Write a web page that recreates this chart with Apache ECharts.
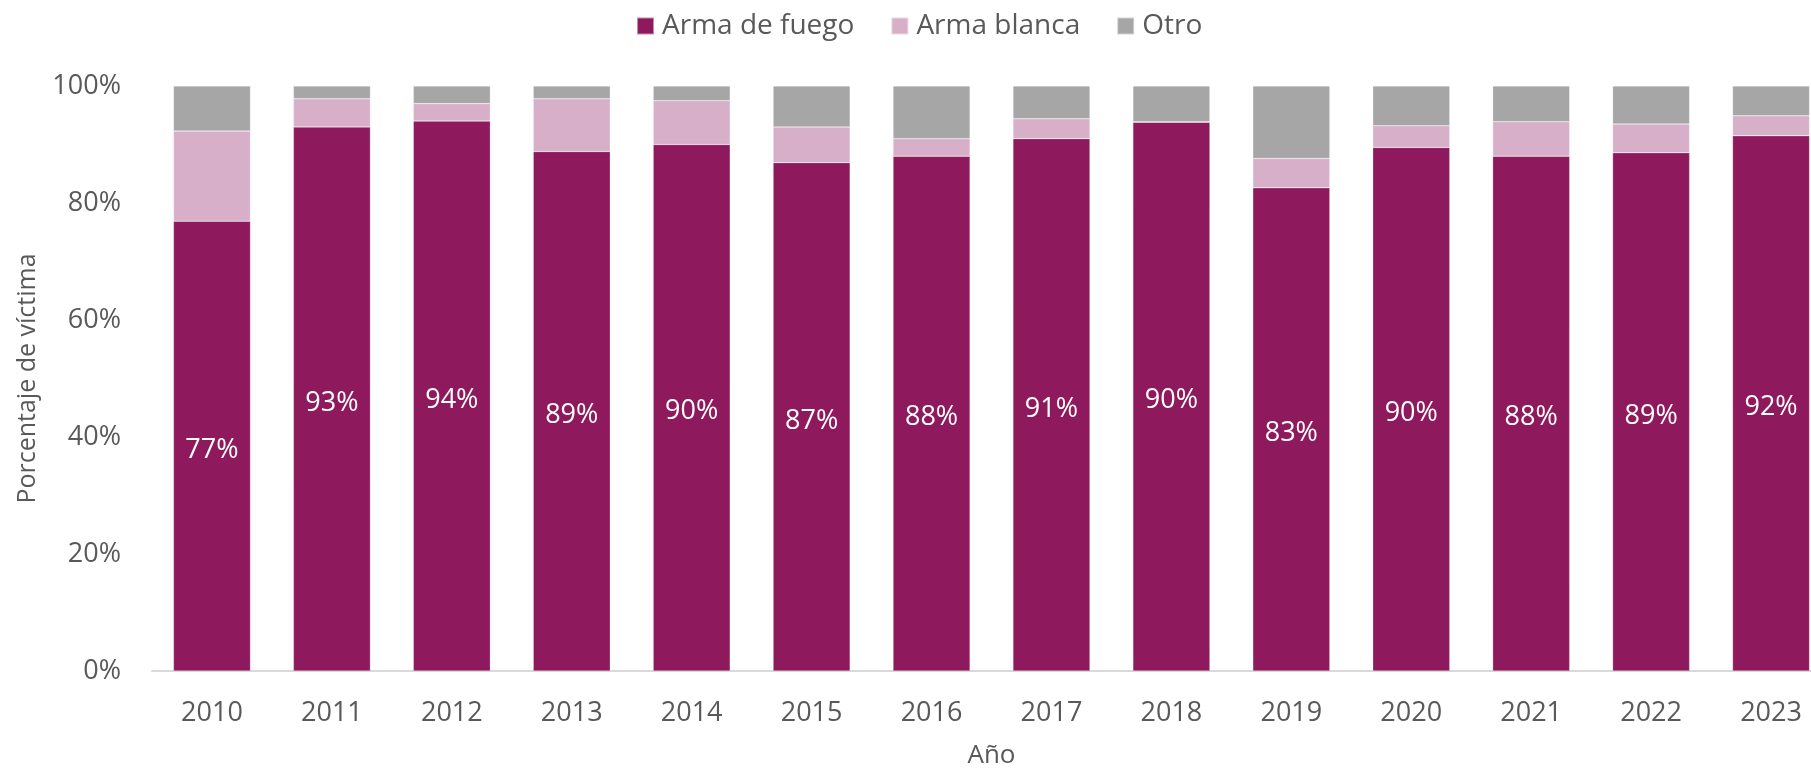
<!DOCTYPE html>
<html>
<head>
<meta charset="utf-8">
<script src="https://cdn.jsdelivr.net/npm/echarts@6/dist/echarts.min.js"></script>
<style>
  html, body { margin: 0; padding: 0; background: #fff; overflow: hidden; }
  /* 原图最后一根柱子被右边缘截断：画布比窗口略宽 */
  #main { width: 1831px; height: 774px; }
</style>
</head>
<body>
<div id="main"></div>
<script>
// 数据
var years = ['2010', '2011', '2012', '2013', '2014', '2015', '2016', '2017', '2018', '2019', '2020', '2021', '2022', '2023'];
var armaFuego = [76.9, 93.0, 94.0, 88.8, 90.0, 86.9, 88.0, 91.0, 93.8, 82.6, 89.5, 88.0, 88.6, 91.5];
var armaBlanca = [15.4, 4.8, 3.0, 9.0, 7.5, 6.1, 3.0, 3.4, 0.1, 5.0, 3.7, 5.9, 4.9, 3.4];
var otro = [7.7, 2.2, 3.0, 2.2, 2.5, 7.0, 9.0, 5.6, 6.1, 12.4, 6.8, 6.1, 6.5, 5.1];
// 柱内显示的标签（原图 2018 年显示 90%）
var fuegoLabels = ['77%', '93%', '94%', '89%', '90%', '87%', '88%', '91%', '90%', '83%', '90%', '88%', '89%', '92%'];
var yTicks = [0, 20, 40, 60, 80, 100];

var myChart = echarts.init(document.getElementById('main'));

var font = "'Open Sans', 'Noto Sans', sans-serif";
var grey = '#595959';

var barStyle = function (color) {
    return { color: color, borderColor: 'rgba(255,255,255,0.5)', borderWidth: 0.5 };
};

var option = {
    animation: false,
    textStyle: { fontFamily: font },
    legend: {
        data: ['Arma de fuego', 'Arma blanca', 'Otro'],
        left: 631,
        top: 7,
        itemWidth: 17,
        itemHeight: 17,
        itemGap: 36,
        icon: 'rect',
        textStyle: { fontFamily: font, fontSize: 28, color: grey, padding: [0, 0, 0, 3] }
    },
    grid: {
        left: 152,
        top: 86,
        width: 1679,
        height: 587,
        containLabel: false
    },
    xAxis: {
        type: 'category',
        data: years,
        name: 'Año',
        nameLocation: 'middle',
        nameGap: 72,
        nameTextStyle: { fontFamily: font, fontSize: 26, color: grey },
        axisLine: { lineStyle: { color: '#d9d9d9', width: 2 } },
        axisTick: { show: false },
        axisLabel: { fontFamily: font, fontSize: 27, color: grey, margin: 29 }
    },
    yAxis: {
        type: 'value',
        min: 0,
        max: 100,
        interval: 20,
        name: 'Porcentaje de víctima',
        nameLocation: 'middle',
        nameGap: 112,
        nameTextStyle: { fontFamily: font, fontSize: 25, color: grey },
        splitLine: { show: false },
        axisLine: { show: false },
        axisTick: { show: false },
        axisLabel: {
            fontFamily: font,
            fontSize: 27,
            color: grey,
            margin: 31,
            formatter: function (v) { return yTicks.indexOf(v) >= 0 ? v + '%' : ''; }
        }
    },
    series: [
        {
            name: 'Arma de fuego',
            type: 'bar',
            stack: 'total',
            barWidth: 77,
            data: armaFuego,
            itemStyle: barStyle('#8e195d'),
            label: {
                show: true,
                position: 'inside',
                offset: [0, 4],
                color: '#ffffff',
                fontFamily: font,
                fontSize: 27,
                formatter: function (p) { return fuegoLabels[p.dataIndex]; }
            }
        },
        {
            name: 'Arma blanca',
            type: 'bar',
            stack: 'total',
            barWidth: 77,
            data: armaBlanca,
            itemStyle: barStyle('#d8afc8')
        },
        {
            name: 'Otro',
            type: 'bar',
            stack: 'total',
            barWidth: 77,
            data: otro,
            itemStyle: barStyle('#a6a6a6')
        }
    ]
};

myChart.setOption(option);
</script>
</body>
</html>
